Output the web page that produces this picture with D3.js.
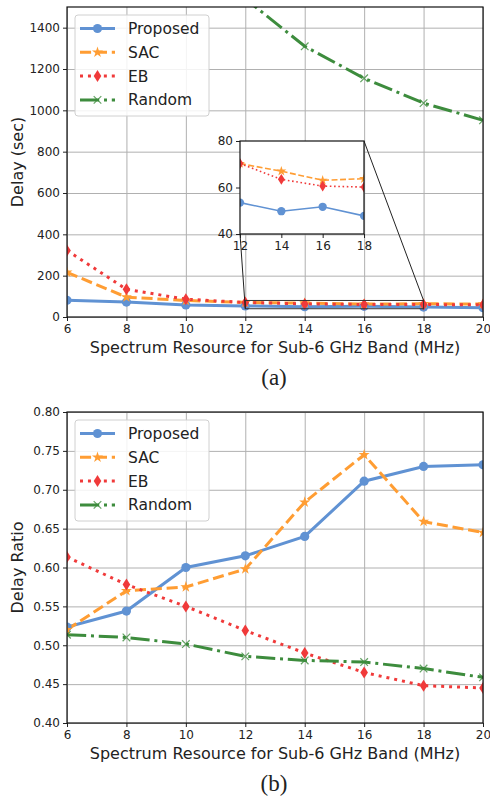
<!DOCTYPE html>
<html lang="en">
<head>
  <meta charset="UTF-8">
  <title>Delay vs Sub-6 GHz spectrum</title>
  <script src="https://d3js.org/d3.v7.min.js"></script>
  <style>
    body {
      margin: 0;
      background: #fff;
    }
    svg text {
      font-family: "DejaVu Sans", sans-serif;
      fill: #222;
    }
    .caption {
      font-family: "Liberation Serif", serif !important;
    }
  </style>
</head>
<body>
<div id="chart"></div>

<script>
// ---- data ----
const spectrum = [6, 8, 10, 12, 14, 16, 18, 20];
const seriesNames = ["Proposed", "SAC", "EB", "Random"];

// (a) delay in seconds
const delayProposed = [81, 72, 58, 53.5, 49.8, 51.7, 47.8, 45];
const delaySAC = [216, 96, 80, 70.3, 67, 63.1, 63.8, 63];
const delayEB = [322, 134, 86, 70.3, 63.5, 60.6, 60.2, 59];
const delayRandom = [3000, 2300, 1850, 1540, 1310, 1155, 1035, 952];

// (b) delay ratio
const ratioProposed = [0.5235, 0.544, 0.600, 0.615, 0.640, 0.711, 0.730, 0.732];
const ratioSAC = [0.520, 0.570, 0.575, 0.598, 0.684, 0.745, 0.659, 0.645];
const ratioEB = [0.6135, 0.578, 0.550, 0.519, 0.490, 0.465, 0.448, 0.445];
const ratioRandom = [0.5136, 0.510, 0.5016, 0.4857, 0.4805, 0.4784, 0.470, 0.4587];

const delayTicks = [0, 200, 400, 600, 800, 1000, 1200, 1400];
const ratioTicks = [0.40, 0.45, 0.50, 0.55, 0.60, 0.65, 0.70, 0.75, 0.80];
const xTicks = [6, 8, 10, 12, 14, 16, 18, 20];
const insetXTicks = [12, 14, 16, 18];
const insetYTicks = [40, 60, 80];

const W = 490, H = 798;
const colors = ["#6092d3", "#ff9d33", "#f03a3a", "#3d8c3d"];
const markers = ["circle", "star", "diamond", "x"];
// dash patterns per unit of line width (matplotlib-like)
const dashes = [null, [3.7, 1.6], [1, 1.65], [6.4, 1.6, 1, 1.6]];

const svg = d3.select("#chart").append("svg")
  .attr("width", W)
  .attr("height", H);

function dashFor(i, lw) {
  return dashes[i] ? dashes[i].map(d => d * lw).join(",") : null;
}

// draw one marker shape at origin, scale k
function drawMarker(g, type, color, k) {
  if (type === "circle") {
    g.append("circle").attr("r", 4.6 * k).attr("fill", color);
  } else if (type === "star") {
    g.append("path")
      .attr("d", d3.symbol().type(d3.symbolStar).size(38 * k * k)())
      .attr("fill", color);
  } else if (type === "diamond") {
    const h = 6 * k, w = 3.8 * k;
    g.append("path")
      .attr("d", `M0,${-h}L${w},0L0,${h}L${-w},0Z`)
      .attr("fill", color);
  } else {
    const s = 3.8 * k;
    g.append("path")
      .attr("d", `M${-s},${-s}L${s},${s}M${-s},${s}L${s},${-s}`)
      .attr("stroke", color)
      .attr("stroke-opacity", 0.8)
      .attr("stroke-width", 1.2)
      .attr("fill", "none");
  }
}

function styleAxis(sel) {
  sel.select(".domain").remove();
  sel.selectAll("line").attr("stroke", "#222");
  sel.selectAll("text").style("font-size", "12px").attr("fill", "#333");
}

function drawPanel(opt) {
  const { left, right, top, bottom, yDomain, yTicks, yFmt, series, yLabel, caption, id } = opt;
  const x = d3.scaleLinear().domain([6, 20]).range([left, right]);
  const y = d3.scaleLinear().domain(yDomain).range([bottom, top]);
  const g = svg.append("g");

  // grid
  g.append("g").attr("transform", `translate(0,${bottom})`)
    .call(d3.axisBottom(x).tickValues(xTicks).tickSize(-(bottom - top)).tickFormat(""))
    .call(s => s.select(".domain").remove())
    .selectAll("line").attr("stroke", "#b0b0b0").attr("stroke-width", 1);
  g.append("g").attr("transform", `translate(${left},0)`)
    .call(d3.axisLeft(y).tickValues(yTicks).tickSize(-(right - left)).tickFormat(""))
    .call(s => s.select(".domain").remove())
    .selectAll("line").attr("stroke", "#b0b0b0").attr("stroke-width", 1);

  // clip
  svg.append("clipPath").attr("id", "clip" + id)
    .append("rect").attr("x", left).attr("y", top)
    .attr("width", right - left).attr("height", bottom - top);

  const plot = g.append("g").attr("clip-path", `url(#clip${id})`);
  const line = d3.line().x((d, i) => x(spectrum[i])).y(d => y(d));

  series.forEach((vals, i) => {
    plot.append("path")
      .datum(vals)
      .attr("d", line)
      .attr("fill", "none")
      .attr("stroke", colors[i])
      .attr("stroke-width", 3)
      .attr("stroke-dasharray", dashFor(i, 3));
  });
  series.forEach((vals, i) => {
    vals.forEach((v, j) => {
      const m = plot.append("g").attr("transform", `translate(${x(spectrum[j])},${y(v)})`);
      drawMarker(m, markers[i], colors[i], 1);
    });
  });

  // axes
  g.append("g").attr("transform", `translate(0,${bottom})`)
    .call(d3.axisBottom(x).tickValues(xTicks).tickSize(4).tickPadding(3))
    .call(styleAxis);
  g.append("g").attr("transform", `translate(${left},0)`)
    .call(d3.axisLeft(y).tickValues(yTicks).tickSize(4).tickPadding(3).tickFormat(yFmt))
    .call(styleAxis);

  g.append("rect")
    .attr("x", left).attr("y", top)
    .attr("width", right - left).attr("height", bottom - top)
    .attr("fill", "none").attr("stroke", "#111").attr("stroke-width", 1.2);

  // labels
  g.append("text")
    .attr("x", (left + right) / 2).attr("y", bottom + 36)
    .attr("text-anchor", "middle").style("font-size", "16px")
    .text("Spectrum Resource for Sub-6 GHz Band (MHz)");
  g.append("text")
    .attr("transform", `translate(23,${(top + bottom) / 2}) rotate(-90)`)
    .attr("text-anchor", "middle").style("font-size", "16px")
    .text(yLabel);
  g.append("text").attr("class", "caption")
    .attr("x", (left + right) / 2 - 1).attr("y", bottom + 68)
    .attr("text-anchor", "middle").style("font-size", "23px")
    .text(caption);

  // legend
  const lg = g.append("g").attr("transform", `translate(${left + 8},${top + 8})`);
  lg.append("rect")
    .attr("width", 134).attr("height", 101).attr("rx", 3)
    .attr("fill", "rgba(255,255,255,0.85)").attr("stroke", "#d0d0d0");
  seriesNames.forEach((name, i) => {
    const row = lg.append("g").attr("transform", `translate(0,${13.5 + i * 23.8})`);
    row.append("line")
      .attr("x1", 5).attr("x2", 40)
      .attr("stroke", colors[i]).attr("stroke-width", 3)
      .attr("stroke-dasharray", dashFor(i, 3));
    drawMarker(row.append("g").attr("transform", "translate(22.5,0)"), markers[i], colors[i], 1);
    row.append("text")
      .attr("x", 53).attr("y", 5.5)
      .style("font-size", "15.5px")
      .text(name);
  });

  return { x, y, g };
}

// ---- panel (a) ----
const a = drawPanel({
  id: "a", left: 67, right: 483, top: 7, bottom: 317,
  yDomain: [0, 1500], yTicks: delayTicks, yFmt: d3.format("d"),
  series: [delayProposed, delaySAC, delayEB, delayRandom],
  yLabel: "Delay (sec)", caption: "(a)"
});

// zoom box and inset
const ix = d3.scaleLinear().domain([12, 18]).range([240, 364]);
const iy = d3.scaleLinear().domain([40, 80]).range([234, 141]);

a.g.append("rect")
  .attr("x", a.x(12)).attr("y", a.y(80))
  .attr("width", a.x(18) - a.x(12)).attr("height", a.y(40) - a.y(80))
  .attr("fill", "none").attr("stroke", "#333").attr("stroke-width", 1);
a.g.append("line")
  .attr("x1", ix(18)).attr("y1", iy(80)).attr("x2", a.x(18)).attr("y2", a.y(80))
  .attr("stroke", "#222").attr("stroke-width", 1);
a.g.append("line")
  .attr("x1", ix(12)).attr("y1", iy(40)).attr("x2", a.x(12)).attr("y2", a.y(40))
  .attr("stroke", "#222").attr("stroke-width", 1);

const inset = a.g.append("g");
inset.append("rect")
  .attr("x", 240).attr("y", 141).attr("width", 124).attr("height", 93)
  .attr("fill", "#fff");
svg.append("clipPath").attr("id", "clipInset")
  .append("rect").attr("x", 240).attr("y", 141).attr("width", 124).attr("height", 93);
const insetPlot = inset.append("g").attr("clip-path", "url(#clipInset)");
const insetIdx = [3, 4, 5, 6];
const insetLine = d3.line().x(j => ix(spectrum[j]));
[delayProposed, delaySAC, delayEB].forEach((vals, i) => {
  insetPlot.append("path")
    .attr("d", insetLine.y(j => iy(vals[j]))(insetIdx))
    .attr("fill", "none")
    .attr("stroke", colors[i])
    .attr("stroke-width", 1.6)
    .attr("stroke-dasharray", dashFor(i, 1.6));
  insetIdx.forEach(j => {
    const m = insetPlot.append("g").attr("transform", `translate(${ix(spectrum[j])},${iy(vals[j])})`);
    drawMarker(m, markers[i], colors[i], 0.9);
  });
});
inset.append("g").attr("transform", "translate(0,234)")
  .call(d3.axisBottom(ix).tickValues(insetXTicks).tickSize(4).tickPadding(3).tickFormat(d3.format("d")))
  .call(styleAxis);
inset.append("g").attr("transform", "translate(240,0)")
  .call(d3.axisLeft(iy).tickValues(insetYTicks).tickSize(4).tickPadding(3).tickFormat(d3.format("d")))
  .call(styleAxis);
inset.append("rect")
  .attr("x", 240).attr("y", 141).attr("width", 124).attr("height", 93)
  .attr("fill", "none").attr("stroke", "#111").attr("stroke-width", 1.2);

// ---- panel (b) ----
drawPanel({
  id: "b", left: 67, right: 483, top: 412, bottom: 723,
  yDomain: [0.40, 0.80], yTicks: ratioTicks, yFmt: d3.format(".2f"),
  series: [ratioProposed, ratioSAC, ratioEB, ratioRandom],
  yLabel: "Delay Ratio", caption: "(b)"
});
</script>
</body>
</html>
